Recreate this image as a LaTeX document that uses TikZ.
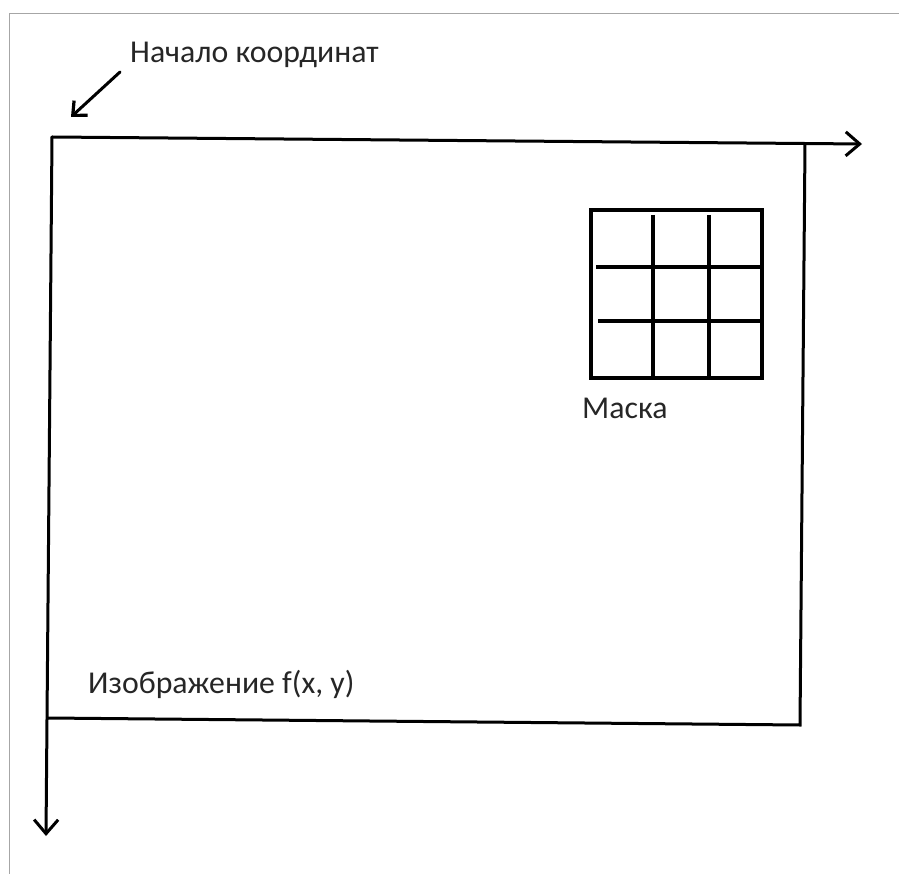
\documentclass[tikz,border=0pt]{standalone}
\usepackage{fontspec}
\setmainfont{Carlito}
\usetikzlibrary{arrows.meta}
\begin{document}
\begin{tikzpicture}[x=1pt,y=-1pt,
  axisline/.style={line width=3pt,line cap=round,line join=round,
    -{Straight Barb[length=14pt,width=24pt,line width=3pt]}},
  edgeline/.style={line width=3pt,line join=miter},
  pointer/.style={line width=3pt,line cap=round,
    -{Straight Barb[length=11pt,width=20pt,line width=3.2pt]}},
  maskline/.style={line width=4pt},
  label/.style={inner sep=0pt,anchor=base west,text=black!85,
    font=\fontsize{31.8}{36}\selectfont}]
\useasboundingbox (0,0) rectangle (899,874);
\draw[gray!70,line width=1pt] (899,14) -- (9,14) -- (9,874);
% axes
\coordinate (O) at (52,137);
\coordinate (X) at (862,144);
\coordinate (Y) at (46,836);
\coordinate (TR) at (805,143);
\coordinate (BR) at (800,725);
\coordinate (BL) at (48,718);
\draw[axisline] (O) -- (X);
\draw[axisline] (O) -- (Y);
\draw[edgeline] (TR) -- (BR) -- (BL);
% origin label
\node[label] (origin) at (130,63) {Начало координат};
\coordinate (P1) at (120,72);
\coordinate (P2) at (71,117);
\draw[pointer] (P1) -- (P2);
% mask
\coordinate (M1) at (591,210);
\coordinate (M2) at (762,378);
\draw[maskline] (M1) rectangle (M2);
\draw[maskline] (653,215) -- (653,378);
\draw[maskline] (709,215) -- (709,378);
\draw[maskline] (596,267) -- (762,267);
\draw[maskline] (598,321) -- (762,321);
\node[label] (mask) at (582,418) {Маска};
\node[label] (image) at (88,693) {Изображение f(x, y)};
\end{tikzpicture}
\end{document}
